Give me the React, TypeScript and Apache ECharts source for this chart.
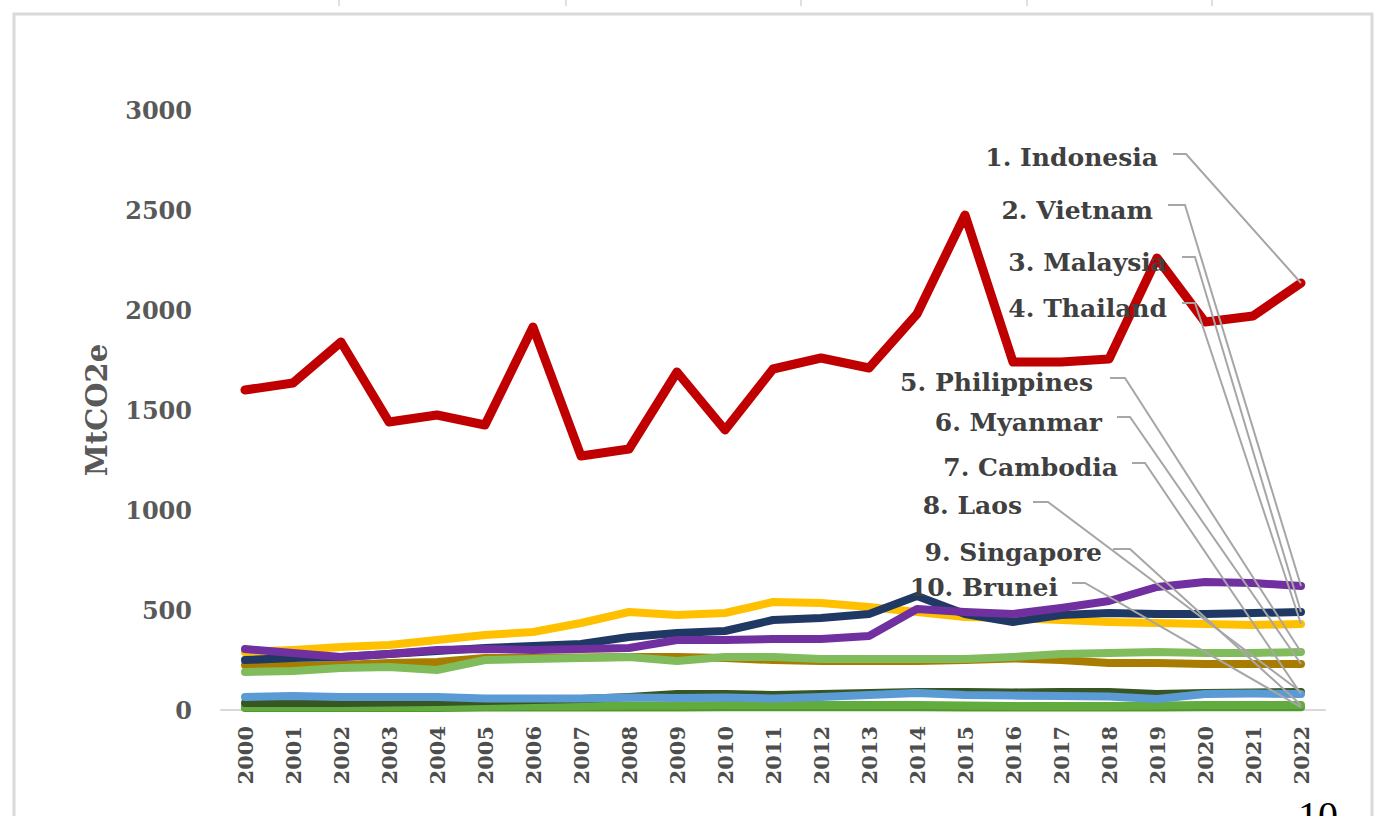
import React, { useEffect, useRef } from "react";
import * as echarts from "echarts";

const years = ["2000","2001","2002","2003","2004","2005","2006","2007","2008","2009","2010","2011","2012","2013","2014","2015","2016","2017","2018","2019","2020","2021","2022"];
const yTicks = { min: 0, max: 3000, interval: 500 };

const indonesia = [1600, 1635, 1840, 1440, 1475, 1425, 1915, 1270, 1305, 1690, 1400, 1705, 1760, 1710, 1980, 2475, 1740, 1740, 1755, 2260, 1940, 1970, 2135];
const vietnam = [305, 285, 265, 280, 300, 305, 300, 305, 310, 350, 350, 355, 355, 370, 505, 490, 480, 510, 545, 615, 640, 635, 620];
const malaysia = [250, 260, 265, 280, 295, 310, 320, 330, 365, 385, 395, 450, 460, 480, 570, 480, 440, 475, 485, 480, 480, 485, 490];
const thailand = [290, 300, 315, 325, 350, 375, 390, 435, 490, 475, 485, 540, 535, 515, 490, 465, 460, 450, 440, 435, 430, 425, 430];
const philippines = [190, 195, 210, 215, 200, 250, 255, 260, 265, 245, 265, 265, 255, 255, 255, 255, 265, 280, 285, 290, 285, 285, 290];
const myanmar = [225, 220, 225, 235, 240, 260, 260, 262, 265, 265, 260, 250, 245, 245, 245, 250, 258, 250, 235, 235, 230, 230, 230];
const cambodia = [65, 70, 65, 65, 65, 58, 58, 58, 62, 60, 62, 58, 65, 75, 85, 75, 72, 70, 68, 55, 80, 82, 80];
const laos = [35, 35, 35, 38, 40, 45, 50, 55, 65, 80, 80, 75, 80, 85, 90, 90, 88, 90, 90, 80, 85, 88, 90];
const singapore = [15, 15, 15, 15, 15, 18, 20, 20, 22, 22, 25, 25, 25, 25, 25, 22, 20, 20, 20, 22, 25, 25, 25];
const brunei = [10, 10, 10, 10, 10, 12, 12, 12, 12, 12, 14, 14, 14, 14, 14, 12, 12, 12, 12, 12, 14, 14, 14];

const countryNames = ["Indonesia", "Vietnam", "Malaysia", "Thailand", "Philippines", "Myanmar", "Cambodia", "Laos", "Singapore", "Brunei"];
const labelTexts = ["1. Indonesia", "2. Vietnam", "3. Malaysia", "4. Thailand", "5. Philippines", "6. Myanmar", "7. Cambodia", "8. Laos", "9. Singapore", "10. Brunei"];
const seriesValues = [indonesia, vietnam, malaysia, thailand, philippines, myanmar, cambodia, laos, singapore, brunei];

// styles / layout (kept apart from data)
const colors = ["#C00000", "#7030A0", "#203864", "#FFC000", "#80BC5C", "#A77C00", "#5B9BD5", "#375623", "#62AB3E", "#4E9A2C"];
const widths = [9, 8, 8, 8, 8, 8, 8, 8, 8, 8];
// [text right x, text center y, elbow start x, elbow end x, elbow y]
const labelLayout = [
  [1158, 157, 1173, 1186, 154],
  [1153, 210, 1168, 1185, 205],
  [1167, 262, 1182, 1195, 257],
  [1167, 308, 1182, 1195, 303],
  [1093, 382, 1110, 1125, 378],
  [1102, 422, 1117, 1130, 417],
  [1118, 467, 1132, 1145, 463],
  [1022, 505, 1033, 1048, 502],
  [1102, 552, 1113, 1130, 549],
  [1058, 587, 1072, 1085, 583],
];

const FONT = "DejaVu Serif";

export default function App() {
  const ref = useRef<HTMLDivElement>(null);
  useEffect(() => {
    if (!ref.current) return;
    const chart = echarts.init(ref.current, null, { renderer: "svg" });
    const order = [9, 8, 7, 6, 5, 4, 3, 2, 1, 0];
    const option: any = {
      animation: false,
      backgroundColor: "#ffffff",
      grid: { left: 221, right: 61, top: 110, bottom: 106, containLabel: false },
      xAxis: {
        type: "category",
        data: years,
        boundaryGap: true,
        axisLine: { show: true, lineStyle: { color: "#D9D9D9", width: 2 } },
        axisTick: { show: false },
        axisLabel: {
          rotate: 90,
          margin: 16,
          interval: 0,
          color: "#4D4D4D",
          fontFamily: FONT,
          fontWeight: "bold",
          fontSize: 21,
        },
        splitLine: { show: false },
      },
      yAxis: {
        type: "value",
        min: yTicks.min,
        max: yTicks.max,
        interval: yTicks.interval,
        name: "MtCO2e",
        nameLocation: "middle",
        nameGap: 110,
        nameRotate: 90,
        nameTextStyle: { color: "#595959", fontFamily: FONT, fontWeight: "bold", fontSize: 29 },
        axisLine: { show: false },
        axisTick: { show: false },
        splitLine: { show: false },
        axisLabel: {
          margin: 29,
          color: "#595959",
          fontFamily: FONT,
          fontWeight: "bold",
          fontSize: 24,
          formatter: (v: number) => String(v),
        },
      },
      series: order.map((i) => ({
        name: countryNames[i],
        type: "line",
        data: seriesValues[i],
        showSymbol: false,
        symbol: "none",
        lineStyle: { color: colors[i], width: widths[i], cap: "round", join: "round" },
        itemStyle: { color: colors[i] },
        z: 2,
      })),
    };
    chart.setOption(option);

    const graphics: any[] = [];
    graphics.push({
      type: "rect",
      shape: { x: 14, y: 14, width: 1358, height: 840 },
      style: { fill: "none", stroke: "#D9D9D9", lineWidth: 3 },
      z: 0,
      silent: true,
    });
    [339, 566, 801, 1027, 1212].forEach((x) => {
      graphics.push({
        type: "line",
        shape: { x1: x, y1: 0, x2: x, y2: 6 },
        style: { stroke: "#BFBFBF", lineWidth: 1 },
        silent: true,
      });
    });
    seriesValues.forEach((vals, i) => {
      const last = vals.length - 1;
      const end = chart.convertToPixel({ xAxisIndex: 0, yAxisIndex: 0 }, [last, vals[last]]) as number[];
      const [tx, ty, ex1, ex2, ey] = labelLayout[i];
      graphics.push({
        type: "polyline",
        shape: { points: [[ex1, ey], [ex2, ey], [end[0], end[1]]] },
        style: { stroke: "#A6A6A6", lineWidth: 2, fill: "none" },
        z: 50,
        silent: true,
      });
      graphics.push({
        type: "text",
        x: tx,
        y: ty,
        style: {
          text: labelTexts[i],
          fill: "#404040",
          font: `bold 25px "${FONT}"`,
          textAlign: "right",
          textVerticalAlign: "middle",
        },
        z: 60,
        silent: true,
      });
    });
    graphics.push({
      type: "text",
      x: 1318,
      y: 795,
      style: {
        text: "10",
        fill: "#000000",
        font: `40px "Liberation Serif"`,
        textAlign: "center",
        textVerticalAlign: "top",
      },
      z: 60,
      silent: true,
    });
    chart.setOption({ graphic: graphics });
    return () => chart.dispose();
  }, []);
  return (
    <div
      ref={ref}
      style={{ position: "fixed", left: 0, top: 0, width: 1386, height: 816, background: "#fff" }}
    />
  );
}
